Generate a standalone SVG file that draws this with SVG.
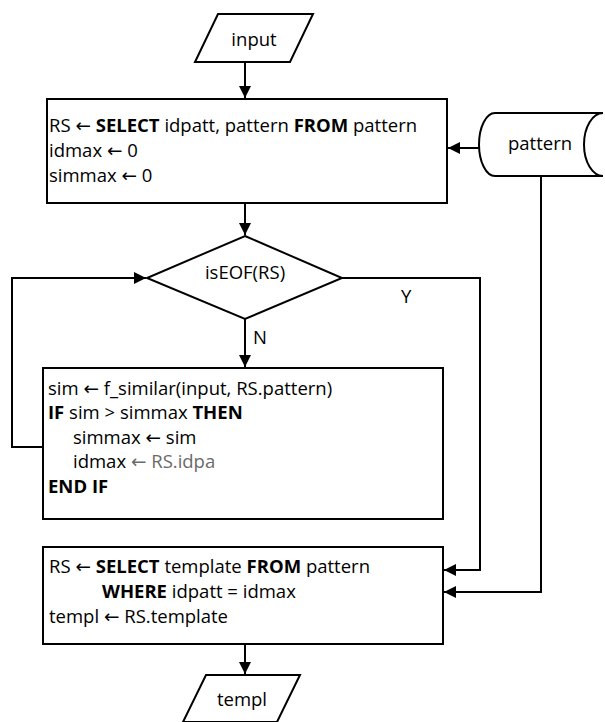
<svg xmlns="http://www.w3.org/2000/svg" width="605" height="722" viewBox="0 0 605 722">
<style>
.s{fill:#fff;stroke:#000;stroke-width:2}
.c{fill:none;stroke:#000;stroke-width:2}
text{font-family:"Open Sans","Liberation Sans",sans-serif;font-size:18.5px;fill:#000}
.b{font-weight:bold}
.m{text-anchor:middle}
.g{fill:#6a6a6a}
.a{font-family:"DejaVu Sans",sans-serif}
</style>
<defs>
<marker id="ah" viewBox="0 0 12 12" refX="12" refY="6" markerWidth="12" markerHeight="12" markerUnits="userSpaceOnUse" orient="auto">
<path d="M0,0 L12,6 L0,12 Z" fill="#000"/>
</marker>
</defs>
<g id="connectors">
<path class="c" d="M245,62 V98" marker-end="url(#ah)"/>
<path class="c" d="M245,203 V235" marker-end="url(#ah)"/>
<path class="c" d="M245,319 V367" marker-end="url(#ah)"/>
<path class="c" d="M43,447 H12 V278 H146" marker-end="url(#ah)"/>
<path class="c" d="M342,278 H480 V570 H444" marker-end="url(#ah)"/>
<path class="c" d="M541,176 V592 H444" marker-end="url(#ah)"/>
<path class="c" d="M479,148 H448" marker-end="url(#ah)"/>
<path class="c" d="M245,644 V674" marker-end="url(#ah)"/>
<text x="401" y="303">Y</text>
<text x="253" y="344">N</text>
</g>
<g id="input">
<path class="s" d="M218,14 H313 L290,62 H195 Z"/>
<text class="m" x="254" y="46">input</text>
</g>
<g id="init">
<rect class="s" x="47" y="99" width="400" height="104"/>
<text x="49" y="132">RS <tspan class="a">←</tspan> <tspan class="b">SELECT</tspan> idpatt, pattern <tspan class="b">FROM</tspan> pattern</text>
<text x="49" y="157">idmax <tspan class="a">←</tspan> 0</text>
<text x="49" y="182">simmax <tspan class="a">←</tspan> 0</text>
</g>
<g id="pattern">
<path class="s" d="M495,113 H603 A19,31.5 0 0 0 603,176 H495 A16,31.5 0 0 1 495,113 Z"/>
<text class="m" x="540" y="150">pattern</text>
</g>
<g id="eof">
<path class="s" d="M245,236 L342,278 L245,319 L147,278 Z"/>
<text class="m" x="245" y="279">isEOF(RS)</text>
</g>
<g id="loop">
<rect class="s" x="43" y="368" width="400" height="151"/>
<text x="48" y="395">sim <tspan class="a">←</tspan> f_similar(input, RS.pattern)</text>
<text x="48" y="419"><tspan class="b">IF</tspan> sim &gt; simmax <tspan class="b">THEN</tspan></text>
<text x="73" y="444">simmax <tspan class="a">←</tspan> sim</text>
<text x="73" y="468">idmax <tspan class="g"><tspan class="a">←</tspan> RS.idpa</tspan></text>
<text class="b" x="48" y="493">END IF</text>
</g>
<g id="select">
<rect class="s" x="43" y="547" width="400" height="97"/>
<text x="49" y="573">RS <tspan class="a">←</tspan> <tspan class="b">SELECT</tspan> template <tspan class="b">FROM</tspan> pattern</text>
<text x="102" y="598"><tspan class="b">WHERE</tspan> idpatt = idmax</text>
<text x="49" y="623">templ <tspan class="a">←</tspan> RS.template</text>
</g>
<g id="templ">
<path class="s" d="M206,675 H300 L277,722 H183 Z"/>
<text class="m" x="242" y="706">templ</text>
</g>
</svg>
